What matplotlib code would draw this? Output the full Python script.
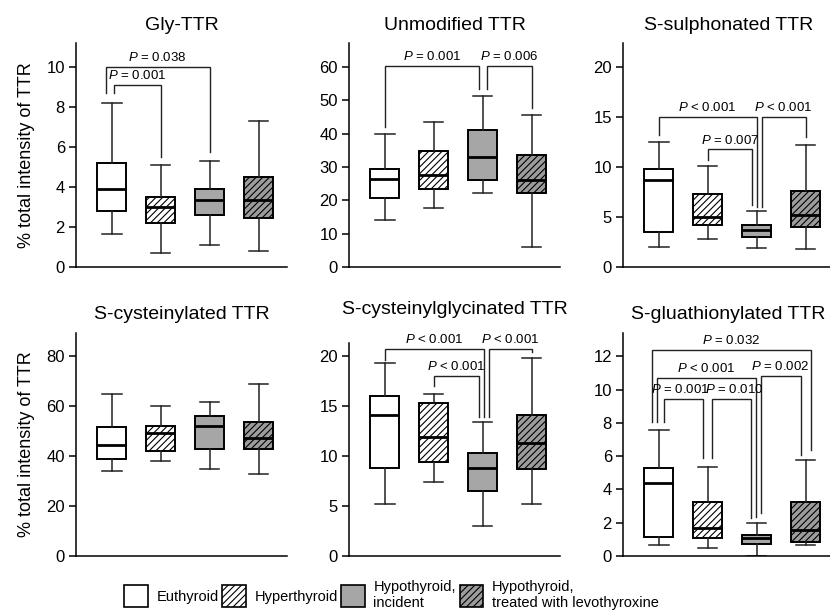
import matplotlib
matplotlib.use('Agg')
import matplotlib.pyplot as plt
from matplotlib.patches import Patch

plt.rcParams['font.family'] = ['Liberation Sans', 'DejaVu Sans']
plt.rcParams['mathtext.fontset'] = 'custom'
plt.rcParams['mathtext.rm'] = 'Liberation Sans'
plt.rcParams['mathtext.it'] = 'Liberation Sans:italic'
plt.rcParams['hatch.linewidth'] = 0.8

# groups and styles
groups = ['Euthyroid', 'Hyperthyroid', 'Hypothyroid,\nincident',
          'Hypothyroid,\ntreated with levothyroxine']
face_colors = ['white', 'white', '#a6a6a6', '#9c9c9c']
hatches = [None, '/////', None, '/////']

titles = ['Gly-TTR', 'Unmodified TTR', 'S-sulphonated TTR',
          'S-cysteinylated TTR', 'S-cysteinylglycinated TTR', 'S-gluathionylated TTR']

# box stats per group: [whisker low, Q1, median, Q3, whisker high]
gly_ttr = [[1.63, 2.8, 3.9, 5.18, 8.2], [0.7, 2.2, 3.0, 3.5, 5.1],
           [1.1, 2.6, 3.35, 3.9, 5.3], [0.8, 2.45, 3.35, 4.5, 7.3]]
unmod_ttr = [[14.0, 20.8, 26.3, 29.3, 40.0], [17.7, 23.3, 27.7, 34.7, 43.5],
             [22.3, 26.0, 33.0, 41.2, 51.3], [6.0, 22.2, 26.0, 33.5, 45.7]]
sulph_ttr = [[2.0, 3.5, 8.67, 9.77, 12.5], [2.77, 4.23, 5.0, 7.27, 10.1],
             [1.93, 3.0, 3.67, 4.23, 5.6], [1.77, 4.0, 5.17, 7.6, 12.17]]
cys_ttr = [[34.1, 38.8, 44.4, 51.7, 65.0], [38.1, 42.0, 49.3, 52.0, 60.0],
           [34.7, 42.7, 52.0, 56.0, 61.7], [32.8, 42.7, 47.3, 53.7, 69.0]]
cysgly_ttr = [[5.2, 8.83, 14.1, 16.0, 19.33], [7.43, 9.43, 11.93, 15.33, 16.17],
              [3.03, 6.5, 8.83, 10.33, 13.37], [5.2, 8.67, 11.33, 14.07, 19.83]]
glut_ttr = [[0.66, 1.16, 4.36, 5.3, 7.6], [0.5, 1.1, 1.66, 3.22, 5.36],
            [0.0, 0.7, 1.06, 1.26, 2.0], [0.66, 0.86, 1.56, 3.26, 5.76]]
panel_data = [gly_ttr, unmod_ttr, sulph_ttr, cys_ttr, cysgly_ttr, glut_ttr]

y_ticks = [[0, 2, 4, 6, 8, 10], [0, 10, 20, 30, 40, 50, 60], [0, 5, 10, 15, 20],
           [0, 20, 40, 60, 80], [0, 5, 10, 15, 20], [0, 2, 4, 6, 8, 10, 12]]
y_tops = [11.2, 67.2, 22.4, 89.2, 22.3, 13.4]
spine_tops = [11.2, 67.2, 22.4, 89.2, 21.3, 13.4]
title_pads = [9, 9, 9, 10, 14, 10]

# significance brackets: (x left, x right, y top, left leg end, right leg end, label, label shift in pt)
gly_brackets = [(0.88, 3.0, 10.0, 8.7, 5.75, '$P$ = 0.038', 0),
                (1.04, 2.0, 9.1, 8.7, 5.5, '$P$ = 0.001', 0)]
unmod_brackets = [(1.0, 2.93, 60.3, 42.0, 53.5, '$P$ = 0.001', 0),
                  (3.08, 4.0, 60.3, 53.5, 47.8, '$P$ = 0.006', 0)]
sulph_brackets = [(1.0, 3.0, 15.0, 13.2, 6.0, '$P$ < 0.001', 0),
                  (3.1, 4.0, 15.0, 6.0, 13.0, '$P$ < 0.001', 0),
                  (2.0, 2.9, 11.77, 10.73, 6.17, '$P$ = 0.007', 0)]
cys_brackets = []
cysgly_brackets = [(1.0, 3.02, 20.7, 19.6, 13.9, '$P$ < 0.001', 0),
                   (3.12, 4.0, 20.7, 13.9, 20.4, '$P$ < 0.001', 0),
                   (2.0, 2.92, 18.0, 17.0, 13.9, '$P$ < 0.001', 0)]
glut_brackets = [(0.87, 4.1, 12.4, 8.06, 6.36, '$P$ = 0.032', 0),
                 (0.96, 2.98, 10.7, 8.06, 2.36, '$P$ < 0.001', 0),
                 (3.08, 3.9, 10.8, 2.56, 6.06, '$P$ = 0.002', 0),
                 (1.1, 1.9, 9.42, 8.06, 5.9, '$P$ = 0.001', -2),
                 (2.08, 2.88, 9.42, 5.9, 2.26, '$P$ = 0.010', 2.5)]
panel_brackets = [gly_brackets, unmod_brackets, sulph_brackets,
                  cys_brackets, cysgly_brackets, glut_brackets]

W, H = 830, 615
fig = plt.figure(figsize=(W / 100, H / 100), dpi=100)

col_left = [76, 349, 623]
row_top = [43, 333]
row_bottom = [267, 556]
ax_width = 211

for i in range(6):
    r, c = divmod(i, 3)
    ax = fig.add_axes([col_left[c] / W, 1 - row_bottom[r] / H, ax_width / W,
                       (row_bottom[r] - row_top[r]) / H])
    stats = []
    for s in panel_data[i]:
        stats.append(dict(whislo=s[0], q1=s[1], med=s[2], q3=s[3], whishi=s[4], fliers=[]))
    bp = ax.bxp(stats, positions=[1, 2, 3, 4], widths=0.6, capwidths=0.4,
                patch_artist=True, showfliers=False,
                boxprops=dict(linewidth=1.4, edgecolor='black'),
                whiskerprops=dict(linewidth=1.1, color='#222222'),
                capprops=dict(linewidth=1.1, color='#222222'),
                medianprops=dict(linewidth=2.0, color='black'))
    for g, box in enumerate(bp['boxes']):
        box.set_facecolor(face_colors[g])
        if hatches[g]:
            box.set_hatch(hatches[g])

    for xl, xr, yt, yl, yr, lab, dx in panel_brackets[i]:
        ax.plot([xl, xl, xr, xr], [yl, yt, yt, yr], color='#222222', lw=1.0,
                clip_on=False, solid_joinstyle='miter')
        ax.annotate(lab, ((xl + xr) / 2, yt), xytext=(dx, 2), textcoords='offset points',
                    ha='center', va='bottom', fontsize=9.5)

    ax.set_xlim(0.27, 4.58)
    ax.set_ylim(0, y_tops[i])
    ax.set_yticks(y_ticks[i])
    ax.set_xticks([])
    ax.spines['top'].set_visible(False)
    ax.spines['right'].set_visible(False)
    ax.spines['left'].set_bounds(0, spine_tops[i])
    ax.spines['left'].set_linewidth(1.1)
    ax.spines['bottom'].set_linewidth(1.1)
    ax.tick_params(axis='y', direction='out', length=5, width=1.1, labelsize=12, pad=3)
    ax.set_title(titles[i], fontsize=14, pad=title_pads[i])
    if c == 0:
        ax.set_ylabel('% total intensity of TTR', fontsize=13, labelpad=8)
    ax.set_facecolor('none')

handles = [Patch(facecolor=face_colors[g], edgecolor='black', hatch=hatches[g], linewidth=1.2)
           for g in range(4)]
fig.legend(handles, groups, ncol=4, loc='center left', bbox_to_anchor=(114 / W, 1 - 595 / H),
           frameon=False, fontsize=10.5, handlelength=1.6, handleheight=1.9,
           handletextpad=0.6, columnspacing=0.25, borderpad=0.2)

fig.savefig('out.png', dpi=100)
